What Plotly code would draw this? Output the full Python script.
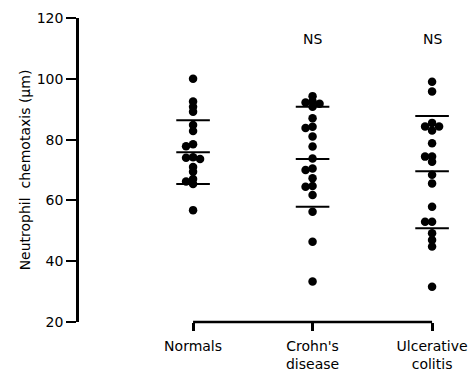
import plotly.graph_objects as go

categories = ["Normals", "Crohn's<br>disease", "Ulcerative<br>colitis"]

normals = [100, 92.5, 90.8, 89.2, 84.8, 82.8, 78.5, 77.8, 74.2, 74.0, 73.6,
           71.0, 69.4, 67.0, 66.2, 65.4, 56.8]
crohns = [94.3, 92.5, 92.2, 91.8, 90.8, 87.0, 84.2, 83.8, 81.0, 77.7, 73.8,
          70.5, 70.0, 67.3, 64.7, 64.5, 61.8, 56.3, 46.4, 33.3]
ulcerative = [99.0, 95.8, 85.5, 84.3, 84.3, 83.0, 78.8, 74.4, 74.4, 72.7,
              68.4, 65.6, 57.9, 53.0, 53.0, 49.2, 47.0, 44.8, 31.6]

means = [75.8, 73.6, 69.6]
upper_sd = [86.4, 90.8, 87.8]
lower_sd = [65.4, 57.9, 50.8]

significance = ["", "NS", "NS"]
yticks = [20, 40, 60, 80, 100, 120]

groups = [normals, crohns, ulcerative]

# pixel scales used for a simple deterministic beeswarm layout
PX_PER_X = 119.5
PX_PER_Y = 3.04
STEP = 7.0
THRESH = 4.5


def swarm(values, center):
    placed = []
    xs = []
    for v in values:
        for k in [0, -1, 1, -2, 2, -3, 3]:
            off = k * STEP
            ok = True
            for (po, pv) in placed:
                dx = off - po
                dy = (v - pv) * PX_PER_Y
                if (dx * dx + dy * dy) ** 0.5 < THRESH:
                    ok = False
                    break
            if ok:
                break
        placed.append((off, v))
        xs.append(center + off / PX_PER_X)
    return xs


fig = go.Figure()

for i, vals in enumerate(groups):
    fig.add_trace(go.Scatter(
        x=swarm(vals, i), y=vals, mode="markers",
        marker=dict(size=8.5, color="black"),
        cliponaxis=False, showlegend=False, hoverinfo="y"))

for stat in (means, upper_sd, lower_sd):
    fig.add_trace(go.Scatter(
        x=list(range(len(categories))), y=stat, mode="markers",
        marker=dict(symbol="line-ew", size=24,
                    line=dict(width=2, color="black")),
        cliponaxis=False, showlegend=False, hoverinfo="y"))

for i, s in enumerate(significance):
    if s:
        fig.add_annotation(x=i, y=113, text=s, showarrow=False,
                           font=dict(size=14, color="black"))

# bracket-style x axis line spanning the categories
fig.add_shape(type="line", xref="x", yref="paper", x0=0, x1=len(categories) - 1,
              y0=0, y1=0, line=dict(color="black", width=2.5))

fig.update_layout(
    width=473, height=371,
    margin=dict(l=77, r=23, t=18, b=49),
    paper_bgcolor="white", plot_bgcolor="white",
    font=dict(family="DejaVu Sans", color="black"),
    xaxis=dict(
        domain=[0.2631, 1], range=[-0.15, 2.15], automargin=False,
        tickmode="array", tickvals=list(range(len(categories))),
        ticktext=categories, ticks="outside", ticklen=8, tickwidth=2.5,
        tickcolor="black", showline=False, showgrid=False, zeroline=False,
        ticklabelstandoff=3,
        tickfont=dict(size=14, color="black"), fixedrange=True),
    yaxis=dict(
        anchor="free", position=0, range=[20, 120], automargin=False,
        tickmode="array", tickvals=yticks,
        ticks="outside", ticklen=10, tickwidth=2, tickcolor="black",
        showline=True, linewidth=2.5, linecolor="black",
        showgrid=False, zeroline=False,
        tickfont=dict(size=14, color="black"),
        title=dict(text="Neutrophil  chemotaxis (μm)",
                   font=dict(size=14, color="black"), standoff=1),
        fixedrange=True),
)

fig.write_html("out.html")
